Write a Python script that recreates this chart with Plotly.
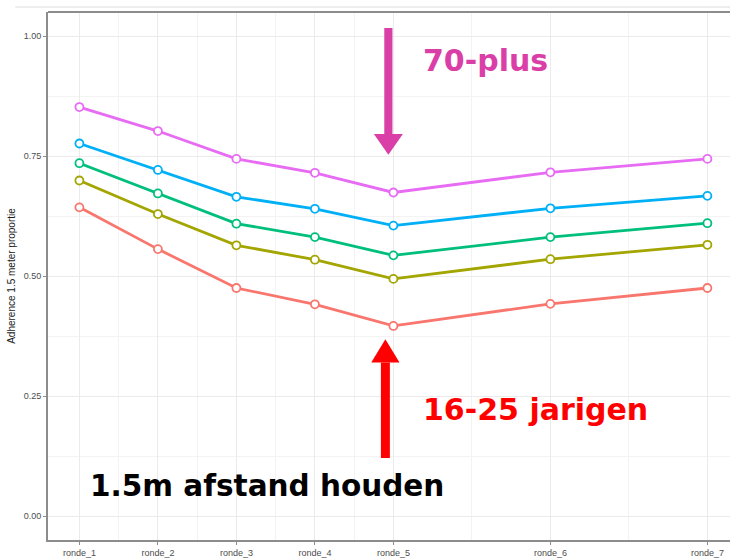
import plotly.graph_objects as go

# ---- data ----
rondes = ["ronde_1", "ronde_2", "ronde_3", "ronde_4", "ronde_5", "ronde_6", "ronde_7"]
x_pos = [1, 2, 3, 4, 5, 7, 9]

age_16_25 = [0.643, 0.556, 0.475, 0.441, 0.396, 0.442, 0.475]
age_26_39 = [0.699, 0.629, 0.564, 0.534, 0.494, 0.535, 0.565]
age_40_54 = [0.735, 0.672, 0.609, 0.581, 0.543, 0.581, 0.610]
age_55_69 = [0.776, 0.721, 0.665, 0.640, 0.605, 0.641, 0.667]
age_70_plus = [0.852, 0.802, 0.744, 0.715, 0.674, 0.716, 0.744]

series = [
    ("16-25", age_16_25, "#F8766D"),
    ("26-39", age_26_39, "#A3A500"),
    ("40-54", age_40_54, "#00BF7D"),
    ("55-69", age_55_69, "#00B0F6"),
    ("70-plus", age_70_plus, "#E76BF3"),
]

y_ticks = [0.0, 0.25, 0.50, 0.75, 1.00]
y_tick_text = ["0.00", "0.25", "0.50", "0.75", "1.00"]

fig = go.Figure()
for name, vals, col in series:
    fig.add_trace(go.Scatter(
        x=x_pos, y=vals, name=name, mode="lines+markers",
        line=dict(color=col, width=2.8),
        marker=dict(symbol="circle", size=8, color="white",
                    line=dict(color=col, width=1.8)),
        showlegend=False,
    ))

grid = "#ebebeb"
border = "#8c8c8c"

fig.update_layout(
    width=730, height=558,
    margin=dict(l=48, r=0, t=12, b=18),
    paper_bgcolor="white", plot_bgcolor="white",
    font=dict(family="Liberation Sans, Arial, sans-serif", color="#4d4d4d"),
    xaxis=dict(
        range=[0.6, 0.6 + 682 / 78.5],
        tickmode="array", tickvals=x_pos, ticktext=rondes,
        tickfont=dict(size=9, color="#4d4d4d"),
        ticks="outside", ticklen=3, tickcolor=border, tickwidth=1,
        showgrid=True, gridcolor=grid, gridwidth=1,
        minor=dict(tickmode="array", tickvals=[1.5, 2.5, 3.5, 4.5, 6, 8],
                   showgrid=True, gridcolor="#f3f3f3", gridwidth=1, ticks=""),
        showline=True, linecolor=border, linewidth=2,
        zeroline=False, automargin=False,
    ),
    yaxis=dict(
        range=[-0.05, 1.05],
        tickmode="array", tickvals=y_ticks, ticktext=y_tick_text,
        tickfont=dict(size=9, color="#4d4d4d"),
        ticks="outside", ticklen=3, tickcolor=border, tickwidth=1,
        showgrid=True, gridcolor=grid, gridwidth=1,
        minor=dict(tickmode="array", tickvals=[0.125, 0.375, 0.625, 0.875],
                   showgrid=True, gridcolor="#f3f3f3", gridwidth=1, ticks=""),
        showline=True, linecolor=border, linewidth=2,
        zeroline=False, automargin=False,
        title=dict(text="Adherence 1.5 meter proportie",
                   font=dict(size=10, color="#1a1a1a"), standoff=6),
    ),
)

# top panel border and faint slide line above it
fig.add_shape(type="line", xref="paper", yref="paper", x0=0, x1=1.02, y0=1, y1=1,
              line=dict(color=border, width=2))
fig.add_shape(type="line", xref="paper", yref="paper", x0=-0.048, x1=1.02,
              y0=1 + 5 / 528, y1=1 + 5 / 528, line=dict(color="#dcdcdc", width=1))

# x axis title (partially cut at bottom of slide)
fig.add_annotation(text="Ronde Onderzoeksite", xref="x", yref="paper",
                   x=5, y=-0.028, yanchor="top", showarrow=False,
                   font=dict(size=11, color="#1a1a1a"))

# arrows (drawn as shapes)
pink = "#DA3FA8"
red = "#FF0000"

def arrow(xc, y_tail, y_base, y_tip, half_shaft, half_head, col):
    fig.add_shape(type="rect", xref="x", yref="y",
                  x0=xc - half_shaft, x1=xc + half_shaft, y0=y_tail, y1=y_base,
                  line=dict(width=0), fillcolor=col)
    fig.add_shape(type="path", xref="x", yref="y",
                  path=f"M {xc - half_head} {y_base} L {xc + half_head} {y_base} L {xc} {y_tip} Z",
                  line=dict(width=0), fillcolor=col)

arrow(4.936, 1.0166, 0.796, 0.7526, 0.052, 0.185, pink)
arrow(4.898, 0.1206, 0.320, 0.368, 0.057, 0.180, red)

bold = "DejaVu Sans, Verdana, sans-serif"
fig.add_annotation(text="<b>70-plus</b>", x=5.35, y=0.948, xanchor="left", yanchor="middle",
                   showarrow=False, font=dict(family=bold, size=30, color=pink))
fig.add_annotation(text="<b>16-25 jarigen</b>", x=5.35, y=0.222, xanchor="left", yanchor="middle",
                   showarrow=False, font=dict(family=bold, size=30, color=red))
fig.add_annotation(text="<b>1.5m afstand houden</b>", x=1.105, y=0.063, xanchor="left", yanchor="middle",
                   showarrow=False, font=dict(family=bold, size=29.5, color="black"))

fig.write_html(
    "out.html",
    config={"displayModeBar": False},
    post_script="document.body.style.margin='0';document.body.style.overflow='hidden';",
)
